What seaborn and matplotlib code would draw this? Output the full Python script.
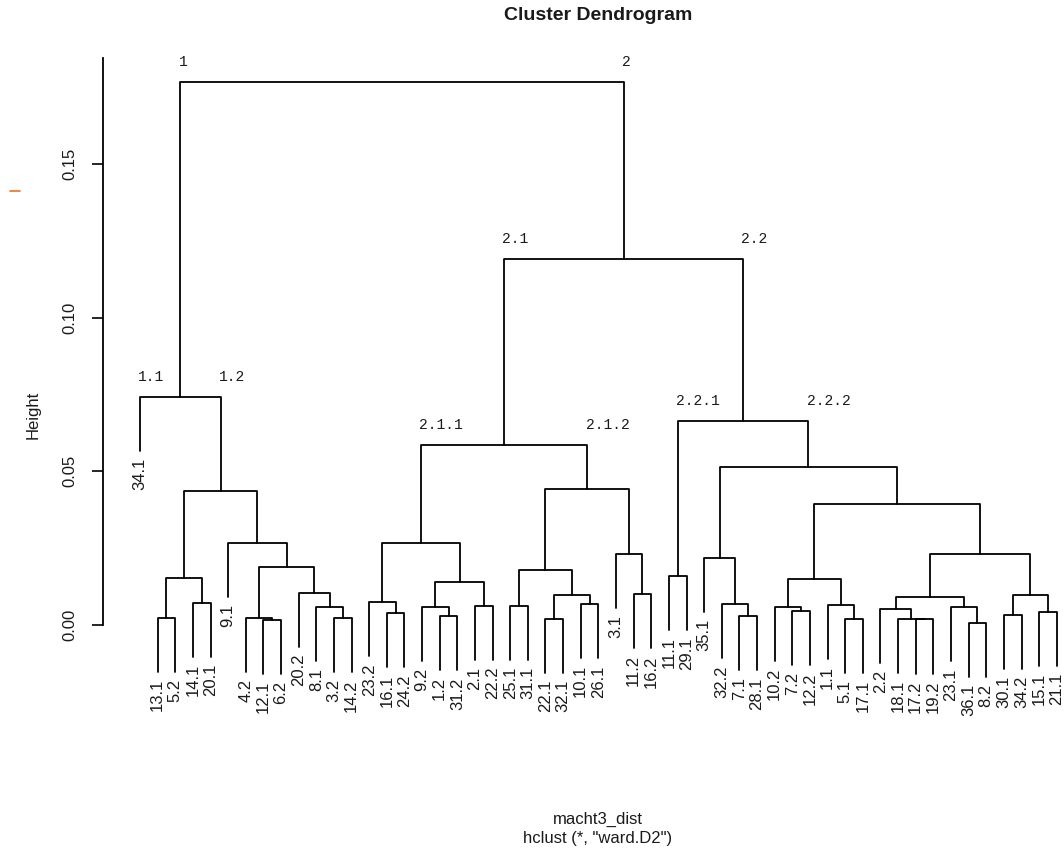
import numpy as np
import pandas as pd
import matplotlib
matplotlib.use("Agg")
import matplotlib.pyplot as plt
from matplotlib.lines import Line2D
import seaborn as sns

# Leaf labels in dendrogram order (left to right)
leaf_labels = [
    "34.1", "13.1", "5.2", "14.1", "20.1", "9.1", "4.2", "12.1", "6.2", "20.2",
    "8.1", "3.2", "14.2", "23.2", "16.1", "24.2", "9.2", "1.2", "31.2", "2.1",
    "22.2", "25.1", "31.1", "22.1", "32.1", "10.1", "26.1", "3.1", "11.2", "16.2",
    "11.1", "29.1", "35.1", "32.2", "7.1", "28.1", "10.2", "7.2", "12.2", "1.1",
    "5.1", "17.1", "2.2", "18.1", "17.2", "19.2", "23.1", "36.1", "8.2", "30.1",
    "34.2", "15.1", "21.1",
]

# hclust-style merge table: negative = leaf (position in leaf_labels, 1-based),
# positive = earlier merge step (1-based)
merge_left = [
    -2, -4, 1, -8, -7, -12, -11, -10, 5, -6,
    3, -1, -15, -14, -18, -17, -20, 16, 14, -22,
    -24, -26, 21, 20, -29, -28, 24, 19, -31, -35,
    -34, -33, -38, -37, -41, -40, 34, -45, -44, -43,
    -48, -47, 40, -50, -52, 44, 43, 37, 32, 29,
    28, 12,
]
merge_right = [
    -3, -5, 2, -9, 4, -13, 6, 7, 8, 9,
    10, 11, -16, 13, -19, 15, -21, 17, 18, -23,
    -25, -27, 22, 23, -30, 25, 26, 27, -32, -36,
    30, 31, -39, 33, -42, 35, 36, -46, 38, 39,
    -49, 41, 42, -51, -53, 45, 46, 47, 48, 49,
    50, 51,
]
merge_height = [
    0.0023, 0.0072, 0.0153, 0.0016, 0.0022, 0.0022, 0.0060, 0.0105, 0.0190, 0.0268,
    0.0436, 0.0742, 0.0038, 0.0074, 0.0029, 0.0058, 0.0063, 0.0141, 0.0268, 0.0063,
    0.0021, 0.0068, 0.0098, 0.0179, 0.0100, 0.0230, 0.0442, 0.0586, 0.0159, 0.0029,
    0.0068, 0.0219, 0.0045, 0.0060, 0.0020, 0.0065, 0.0150, 0.0018, 0.0021, 0.0052,
    0.0008, 0.0058, 0.0092, 0.0033, 0.0043, 0.0098, 0.0230, 0.0394, 0.0514, 0.0664,
    0.1190, 0.1766,
]

# Named branches written above selected merges
branch_nodes = [52, 12, 51, 28, 50]
branch_names = [("1", "2"), ("1.1", "1.2"), ("2.1", "2.2"),
                ("2.1.1", "2.1.2"), ("2.2.1", "2.2.2")]

y_ticks = [0.00, 0.05, 0.10, 0.15]
y_tick_labels = ["0.00", "0.05", "0.10", "0.15"]

# ---------------------------------------------------------------------------
sns.set_theme(style="white")
plt.rcParams["font.family"] = ["Liberation Sans", "DejaVu Sans"]

n_leaf = len(leaf_labels)
hang = 0.1 * (max(merge_height) - min(merge_height))

node_x, node_y = {}, {}
leaf_bottom = {}
rows = []
for step, (a, b, h) in enumerate(zip(merge_left, merge_right, merge_height), start=1):
    pts = []
    for child in (a, b):
        if child < 0:
            cx = float(-child)
            cy = h - hang
            leaf_bottom[-child] = cy
        else:
            cx, cy = node_x[child], node_y[child]
        pts.append((cx, cy))
    (xa, ya), (xb, yb) = pts
    for order, (px, py) in enumerate([(xa, ya), (xa, h), (xb, h), (xb, yb)]):
        rows.append({"seg": step, "order": order, "x": px, "y": py})
    node_x[step] = (xa + xb) / 2
    node_y[step] = h

segments = pd.DataFrame(rows)

W, H = 1064, 850
fig = plt.figure(figsize=(W / 100, H / 100), dpi=100)
fig.patch.set_facecolor("white")

ax_left, ax_right, ax_top, ax_bottom = 103, 1064, 58, 720
ax = fig.add_axes([ax_left / W, 1 - ax_bottom / H,
                   (ax_right - ax_left) / W, (ax_bottom - ax_top) / H])
ax.set_facecolor("white")

sns.lineplot(data=segments, x="x", y="y", units="seg", estimator=None,
             sort=False, color="black", linewidth=1.3, ax=ax, legend=False)

px_per_leaf = 17.63
x_min = 1 - (140 - ax_left) / px_per_leaf
x_max = x_min + (ax_right - ax_left) / px_per_leaf
px_per_unit = 3074.0
y_min = -(ax_bottom - 625) / px_per_unit
y_max = (625 - ax_top) / px_per_unit
ax.set_xlim(x_min, x_max)
ax.set_ylim(y_min, y_max)

# Leaf labels, rotated, hanging below each leaf
for i, lab in enumerate(leaf_labels, start=1):
    ax.text(i, leaf_bottom[i] - 7 / px_per_unit, lab, rotation=90,
            ha="center", va="top", fontsize=12, color="#1a1a1a", clip_on=False)

# Branch names above the merges
for node, (left_name, right_name) in zip(branch_nodes, branch_names):
    idx = node - 1
    h = merge_height[idx]
    for child, name in ((merge_left[idx], left_name), (merge_right[idx], right_name)):
        cx = float(-child) if child < 0 else node_x[child]
        ax.text(cx - 0.1, h + 20 / px_per_unit, name, ha="left", va="center",
                fontsize=10.5, family="Liberation Mono", color="#1a1a1a")

# Axes styling
for side in ("top", "right", "bottom"):
    ax.spines[side].set_visible(False)
ax.spines["left"].set_bounds(0, y_max)
ax.spines["left"].set_color("black")
ax.spines["left"].set_linewidth(1.3)
ax.set_xticks([])
ax.set_yticks(y_ticks)
ax.set_yticklabels(y_tick_labels, rotation=90, va="center", fontsize=12,
                   color="#1a1a1a")
ax.tick_params(axis="y", direction="out", length=7.7, width=1.2,
               color="black", pad=11, left=True)
ax.set_xlabel("")
ax.set_ylabel("")

fig.text(33 / W, 1 - 415 / H, "Height", rotation=90, ha="center", va="center",
         fontsize=12, color="#1a1a1a")
fig.text(598 / W, 1 - 16 / H, "Cluster Dendrogram", ha="center", va="center",
         fontsize=14, fontweight="bold", color="#1a1a1a")
fig.text(598 / W, 1 - 819 / H, "macht3_dist", ha="center", va="center",
         fontsize=12, color="#1a1a1a")
fig.text(598 / W, 1 - 838 / H, 'hclust (*, "ward.D2")', ha="center",
         va="center", fontsize=12, color="#1a1a1a")

# small orange stroke in the left margin
fig.add_artist(Line2D([10 / W, 20 / W], [1 - 191 / H, 1 - 191 / H],
                      color="#f07020", linewidth=1.2))

fig.savefig("out.png", dpi=100, facecolor="white")
